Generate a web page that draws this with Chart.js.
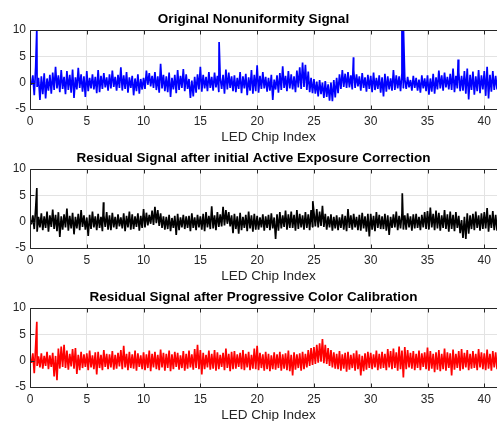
<!DOCTYPE html>
<html>
<head>
<meta charset="utf-8">
<script src="https://cdn.jsdelivr.net/npm/chart.js@4"></script>
<style>
  html, body { margin: 0; padding: 0; background: #fff; }
  body { width: 497px; height: 421px; overflow: hidden; position: relative; }
  .panel { position: absolute; left: 0; width: 508px; height: 145px; }
</style>
</head>
<body>
<div class="panel" style="top:0px"><canvas id="c1" width="508" height="145"></canvas></div>
<div class="panel" style="top:139px"><canvas id="c2" width="508" height="145"></canvas></div>
<div class="panel" style="top:278px"><canvas id="c3" width="508" height="145"></canvas></div>
<script>
// envelope of each signal, read per 0.25 chip step: upper value, then lower value half a step later
var xStep = 0.25;
var xTicks = [0, 5, 10, 15, 20, 25, 30, 35, 40];
var yTicks = [-5, 0, 5, 10];

var origHi = [
  0.2, 1.4, 3.0, 0.9,  1.2, 1.8, 0.8, 1.5,  1.9, 3.0, 1.4, 2.4,  1.1, 2.2, 1.5, 2.5,
  1.0, 2.8, 1.6, 1.2,  2.2, 0.9, 1.6, 1.1,  2.4, 1.3, 1.8, 1.0,  1.6, 2.3, 1.1, 1.5,
  2.9, 1.4, 2.0, 1.0,  1.3, 0.8, 1.6, 0.7,  0.9, 2.3, 1.8, 1.3,  2.0, 1.2, 3.6, 1.5,
  1.2, 1.9, 0.9, 1.5,  2.4, 1.3, 2.6, 1.6,  0.7, 0.4, 1.1, 1.6,  3.0, 1.5, 1.1, 2.0,
  1.1, 1.9, 1.3, 0.9,  1.5, 2.5, 1.9, 1.2,  1.4, 0.9, 2.0, 1.2,  1.7, 1.0, 2.4, 1.5,
  3.3, 1.3, 2.0, 1.1,  0.9, 1.5, 0.6, 1.4,  1.8, 3.1, 1.3, 2.2,  1.6, 1.2, 2.3, 2.9,
  3.8, 3.4, 2.1, 0.9,  0.7, 0.2, 0.5, 0.0,  0.3, -0.3, 0.0, 0.5,  0.9, 1.6, 2.4, 1.7,
  2.0, 1.4, 2.4, 1.6,  1.2, 1.8, 1.0, 1.5,  1.3, 1.9, 0.9, 1.4,  1.0, 1.7, 1.2, 0.8,
  2.4, 1.4, 1.2, 1.8,  0.7, 1.1, 0.5, 1.3,  0.9, 0.6, 1.4, 0.8,  1.4, 0.8, 1.7, 1.0,
  2.3, 1.4, 1.9, 1.1,  1.7, 2.7, 1.3, 2.0,  1.3, 2.2, 2.7, 1.5,  2.1, 1.2, 2.4, 1.4,
  2.2, 3.0, 1.5, 2.2,  1.3, 2.0, 1.1, 1.7,  1.2
];
var origLo = [
  -0.4, -2.4, -0.8, -3.3,  -2.2, -3.0, -1.5, -2.1,  -1.4, -1.1, -1.8, -1.2,  -2.2, -1.4, -1.9, -2.9,
  -1.3, -1.0, -1.7, -2.7,  -1.6, -1.1, -1.3, -2.0,  -1.8, -1.2, -0.9, -1.5,  -1.1, -0.8, -1.5, -1.0,
  -1.5, -1.2, -1.9, -1.0,  -2.4, -1.6, -2.1, -1.3,  -1.2, -0.4, -0.7, -1.0,  -1.4, -1.9, -1.1, -1.6,
  -1.8, -2.7, -1.3, -2.0,  -1.4, -1.0, -1.6, -1.2,  -2.9, -2.6, -1.9, -1.3,  -1.7, -1.1, -1.6, -1.0,
  -1.5, -0.9, -1.8, -1.2,  -2.1, -1.3, -1.0, -1.6,  -1.8, -1.2, -2.0, -1.1,  -2.4, -1.5, -2.1, -1.6,
  -1.9, -1.2, -1.1, -1.7,  -1.5, -3.3, -1.3, -1.9,  -1.4, -1.0, -1.6, -1.1,  -1.3, -1.8, -0.9, -1.2,
  -0.8, -1.4, -1.8, -2.0,  -2.1, -2.6, -2.2, -2.9,  -2.7, -3.4, -3.5, -2.8,  -2.0, -1.2, -0.8, -1.0,
  -0.9, -1.3, -1.0, -0.7,  -1.5, -1.0, -1.7, -1.2,  -1.8, -1.4, -1.2, -1.9,  -2.6, -1.7, -1.3, -1.5,
  -1.4, -1.1, -1.6, -1.0,  -1.2, -0.9, -1.5, -1.0,  -1.5, -1.9, -1.1, -1.6,  -2.3, -1.7, -2.1, -1.3,
  -1.1, -1.5, -0.9, -1.3,  -1.4, -1.8, -1.1, -1.6,  -1.5, -2.1, -3.2, -1.4,  -2.3, -1.6, -2.0, -1.3,
  -2.5, -3.0, -1.7, -1.4,  -1.3, -2.0, -1.6, -1.1,  -1.4
];
var origSpikeX = [0.6, 16.65, 28.48, 32.75, 32.88, 37.7];
var origSpikeY = [10.5, 7.7, 4.8, 10.5, 10.5, 4.4];

var activeHi = [
  0.4, 1.2, 2.6, 0.9,  1.6, 1.0, 1.9, 1.2,  2.3, 1.3, 1.8, 1.0,  1.4, 2.5, 1.1, 1.7,
  0.9, 1.5, 2.2, 1.2,  0.8, 1.3, 1.9, 1.0,  1.5, 0.9, 1.2, 1.8,  1.2, 1.7, 0.9, 1.4,
  0.8, 1.6, 1.1, 1.9,  1.4, 1.0, 1.6, 1.1,  2.4, 1.7, 1.3, 2.1,  2.8, 2.2, 1.6, 1.0,
  0.9, 1.3, 0.7, 1.1,  1.5, 0.8, 1.3, 1.0,  1.1, 1.6, 0.8, 1.3,  1.0, 1.5, 1.8, 1.1,
  2.9, 1.2, 1.8, 1.4,  2.8, 2.2, 1.8, 1.2,  1.5, 1.0, 1.7, 0.9,  1.3, 1.9, 1.2, 1.5,
  1.1, 0.8, 1.4, 1.0,  1.3, 1.6, 0.8, 1.4,  1.8, 1.2, 2.1, 1.4,  1.9, 1.3, 2.2, 1.5,
  1.2, 1.8, 1.4, 2.2,  1.8, 2.4, 1.9, 3.0,  1.5, 1.0, 1.4, 0.9,  1.2, 0.8, 1.4, 1.1,
  2.4, 1.2, 1.5, 0.9,  1.3, 1.7, 1.0, 1.5,  1.5, 1.1, 1.8, 1.3,  1.0, 1.5, 1.2, 0.9,
  1.4, 1.9, 1.1, 1.5,  1.2, 1.6, 1.0, 1.4,  1.5, 0.9, 1.3, 1.8,  2.0, 2.7, 1.5, 2.1,
  1.7, 1.2, 2.2, 1.4,  1.9, 1.3, 1.8, 1.1,  0.3, 0.9, 1.6, 1.2,  1.5, 1.9, 1.2, 1.6,
  1.8, 2.6, 1.3, 2.0,  1.3, 1.8, 1.1, 1.5,  1.2
];
var activeLo = [
  -0.5, -1.4, -1.9, -1.1,  -1.6, -1.2, -1.9, -1.0,  -1.4, -1.8, -2.9, -1.5,  -1.1, -1.7, -1.3, -2.4,
  -1.3, -1.6, -1.0, -1.5,  -2.7, -1.4, -1.1, -1.6,  -1.2, -1.8, -1.0, -1.5,  -1.6, -1.1, -1.4, -0.9,
  -1.3, -1.8, -1.1, -1.5,  -1.4, -1.0, -1.7, -1.2,  -1.1, -0.7, -0.4, -0.6,  -0.3, -0.8, -1.2, -1.5,
  -1.4, -1.8, -1.2, -2.5,  -1.6, -1.1, -1.4, -1.2,  -1.8, -1.2, -1.6, -1.1,  -1.5, -1.8, -1.1, -1.4,
  -1.3, -1.6, -1.0, -0.9,  -0.7, -0.4, -0.9, -2.2,  -1.4, -2.3, -1.6, -1.2,  -1.8, -1.3, -1.9, -1.5,
  -1.5, -1.1, -1.7, -1.2,  -1.6, -1.3, -3.3, -1.7,  -1.3, -1.0, -1.5, -1.2,  -1.2, -1.7, -1.4, -1.1,
  -1.5, -1.2, -1.6, -1.0,  -0.9, -1.1, -0.8, -1.0,  -1.5, -1.1, -1.7, -1.3,  -1.6, -1.2, -1.5, -1.8,
  -1.2, -1.5, -1.1, -1.6,  -1.7, -1.3, -1.9, -2.8,  -1.5, -1.8, -1.2, -1.4,  -1.4, -1.7, -2.5, -1.2,
  -1.1, -1.6, -1.3, -1.5,  -1.5, -1.1, -1.7, -1.3,  -1.2, -1.6, -1.1, -1.4,  -1.5, -1.1, -1.6, -1.3,
  -1.7, -1.2, -1.4, -1.9,  -1.4, -1.8, -1.2, -2.2,  -3.1, -3.3, -2.3, -1.4,  -1.6, -1.2, -1.7, -1.4,
  -1.3, -1.9, -1.2, -1.6,  -1.7, -1.2, -1.5, -1.6,  -1.4
];
var activeSpikeX = [0.6, 6.47, 24.9, 32.78];
var activeSpikeY = [6.4, 3.7, 3.9, 5.4];

var progHi = [
  0.2, 1.4, 2.9, 0.8,  1.4, 0.9, 1.7, 1.0,  1.5, 0.9, 2.3, 2.7,  3.0, 1.9, 1.3, 2.2,
  2.4, 1.1, 1.7, 1.2,  1.4, 1.9, 1.0, 1.6,  1.7, 1.1, 2.0, 1.3,  1.2, 1.8, 1.1, 1.5,
  2.0, 2.8, 1.3, 1.7,  1.2, 1.9, 1.4, 1.0,  1.6, 1.2, 1.9, 1.3,  1.7, 1.1, 2.1, 1.5,
  1.3, 1.9, 1.2, 1.7,  1.5, 1.0, 1.8, 1.3,  1.9, 1.2, 2.2, 3.0,  2.0, 1.5, 1.1, 1.9,
  1.3, 2.0, 1.6, 1.1,  1.5, 2.3, 1.3, 1.7,  1.8, 1.2, 1.5, 2.0,  1.3, 1.7, 1.1, 2.3,
  2.8, 1.5, 1.2, 1.7,  1.3, 1.0, 1.6, 1.2,  1.7, 1.2, 1.4, 1.9,  1.1, 1.6, 1.2, 1.4,
  1.7, 1.3, 2.0, 2.4,  2.6, 3.0, 3.3, 4.1,  3.0, 2.4, 2.0, 1.6,  1.3, 1.8, 1.2, 1.5,
  1.7, 1.1, 1.4, 1.9,  1.2, 0.9, 1.4, 1.7,  1.5, 1.2, 1.9, 1.3,  1.7, 1.3, 2.2, 1.8,
  2.3, 1.6, 2.7, 1.9,  2.6, 2.0, 1.5, 1.8,  1.3, 1.9, 1.4, 1.6,  2.5, 1.8, 1.3, 1.6,
  2.0, 1.3, 2.3, 1.6,  1.4, 2.1, 1.3, 1.8,  2.2, 1.5, 2.0, 1.3,  1.8, 1.3, 2.2, 1.6,
  1.4, 2.1, 1.3, 1.8,  1.6, 1.3, 2.0, 1.5,  1.4
];
var progLo = [
  -0.4, -2.4, -1.0, -1.3,  -1.5, -1.0, -1.6, -1.2,  -3.0, -3.7, -1.5, -1.2,  -1.4, -1.7, -1.1, -1.5,
  -2.5, -1.8, -1.4, -1.2,  -1.8, -1.3, -1.6, -2.6,  -1.4, -1.8, -1.2, -1.6,  -1.3, -1.7, -1.5, -1.1,
  -1.6, -1.3, -1.8, -1.4,  -1.5, -1.9, -1.2, -1.6,  -1.8, -1.4, -2.0, -1.3,  -1.6, -1.8, -1.3, -1.9,
  -1.4, -2.0, -1.6, -1.2,  -1.7, -1.4, -1.9, -1.5,  -1.3, -1.7, -1.4, -1.6,  -2.6, -1.6, -1.3, -1.7,
  -1.5, -1.9, -1.6, -1.2,  -1.8, -1.4, -2.0, -1.6,  -1.5, -1.2, -1.6, -1.8,  -1.3, -1.8, -1.5, -1.6,
  -1.8, -1.4, -1.9, -1.6,  -2.0, -1.6, -1.7, -1.4,  -1.9, -1.5, -1.8, -2.0,  -2.8, -1.7, -1.4, -1.9,
  -1.6, -1.3, -1.0, -0.8,  -0.6, -0.4, -0.2, -0.5,  -0.6, -1.0, -1.3, -1.5,  -1.6, -1.9, -1.5, -2.1,
  -1.7, -1.4, -1.9, -1.6,  -2.8, -2.0, -1.7, -1.4,  -1.6, -1.3, -1.8, -1.5,  -1.4, -1.8, -1.3, -1.6,
  -1.4, -1.9, -1.6, -3.2,  -1.6, -1.3, -1.5, -1.8,  -1.4, -1.8, -1.2, -1.6,  -1.9, -1.5, -2.2, -1.7,
  -2.0, -1.6, -1.9, -1.4,  -2.8, -1.7, -1.4, -1.9,  -1.6, -1.3, -1.8, -1.5,  -1.4, -1.8, -1.3, -1.6,
  -1.8, -1.5, -1.9, -1.3,  -1.6, -1.4, -1.8, -1.3,  -1.5
];
var progSpikeX = [0.6];
var progSpikeY = [7.4];

var FONT = "'Liberation Sans', Arial, Helvetica, sans-serif";
var AXIS_COLOR = "#262626";

function buildPoints(hi, lo, spikeX, spikeY) {
  var pts = [];
  hi.forEach(function (v, i) {
    pts.push({ x: i * xStep, y: v });
    pts.push({ x: i * xStep + xStep / 2, y: lo[i] });
  });
  spikeX.forEach(function (sx, j) {
    pts.push({ x: sx, y: spikeY[j] });
  });
  pts.sort(function (a, b) { return a.x - b.x; });
  return pts;
}

// MATLAB style box with inward ticks
var boxPlugin = {
  id: "box",
  afterDatasetsDraw: function (chart) {
    var ctx = chart.ctx;
    var a = chart.chartArea;
    var xs = chart.scales.x;
    var ys = chart.scales.y;
    var L = Math.round(a.left) + 0.5, R = Math.round(a.right) + 0.5;
    var T = Math.round(a.top) + 0.5, B = Math.round(a.bottom) + 0.5;
    ctx.save();
    ctx.strokeStyle = AXIS_COLOR;
    ctx.lineWidth = 1;
    ctx.beginPath();
    ctx.rect(L, T, R - L, B - T);
    xs.ticks.forEach(function (t) {
      var px = Math.round(xs.getPixelForValue(t.value)) + 0.5;
      ctx.moveTo(px, T); ctx.lineTo(px, T + 4);
      ctx.moveTo(px, B); ctx.lineTo(px, B - 4);
    });
    ys.ticks.forEach(function (t) {
      var py = Math.round(ys.getPixelForValue(t.value)) + 0.5;
      ctx.moveTo(L, py); ctx.lineTo(L + 4, py);
      ctx.moveTo(R, py); ctx.lineTo(R - 4, py);
    });
    ctx.stroke();
    ctx.restore();
  }
};

function makeChart(id, title, color, points) {
  return new Chart(document.getElementById(id), {
    type: "line",
    data: {
      datasets: [{
        data: points,
        borderColor: color,
        borderWidth: 1.7,
        borderJoinStyle: "bevel",
        pointRadius: 0,
        tension: 0,
        fill: false
      }]
    },
    options: {
      responsive: false,
      animation: false,
      parsing: false,
      normalized: true,
      layout: { padding: { left: 0, right: 1, top: 0, bottom: 0 } },
      plugins: {
        legend: { display: false },
        tooltip: { enabled: false },
        title: {
          display: true,
          text: title,
          color: "#000",
          font: { family: FONT, size: 13.5, weight: "bold", lineHeight: 1.2 },
          padding: { top: 11.4, bottom: 2.4 }
        }
      },
      scales: {
        x: {
          type: "linear",
          min: 0,
          max: 42,
          afterBuildTicks: function (s) {
            s.ticks = xTicks.map(function (v) { return { value: v }; });
          },
          afterFit: function (s) { s.height = 36; },
          grid: { color: "#e3e3e3", lineWidth: 1, drawTicks: false },
          border: { display: false },
          ticks: {
            color: AXIS_COLOR,
            padding: 5,
            maxRotation: 0,
            font: { family: FONT, size: 12 },
            callback: function (v) { return String(v); }
          },
          title: {
            display: true,
            text: "LED Chip Index",
            color: AXIS_COLOR,
            padding: { top: 0, bottom: 0 },
            font: { family: FONT, size: 13.5, lineHeight: 1.2 }
          }
        },
        y: {
          min: -5,
          max: 10,
          afterBuildTicks: function (s) {
            s.ticks = yTicks.map(function (v) { return { value: v }; });
          },
          afterFit: function (s) { s.width = 30; },
          grid: { color: "#e3e3e3", lineWidth: 1, drawTicks: false },
          border: { display: false },
          ticks: {
            color: AXIS_COLOR,
            padding: 4,
            font: { family: FONT, size: 12 },
            callback: function (v) { return String(v); }
          }
        }
      }
    },
    plugins: [boxPlugin]
  });
}

makeChart("c1", "Original Nonuniformity Signal", "#0000ff",
  buildPoints(origHi, origLo, origSpikeX, origSpikeY));
makeChart("c2", "Residual Signal after initial Active Exposure Correction", "#000000",
  buildPoints(activeHi, activeLo, activeSpikeX, activeSpikeY));
makeChart("c3", "Residual Signal after Progressive Color Calibration", "#ff0000",
  buildPoints(progHi, progLo, progSpikeX, progSpikeY));
</script>
</body>
</html>
